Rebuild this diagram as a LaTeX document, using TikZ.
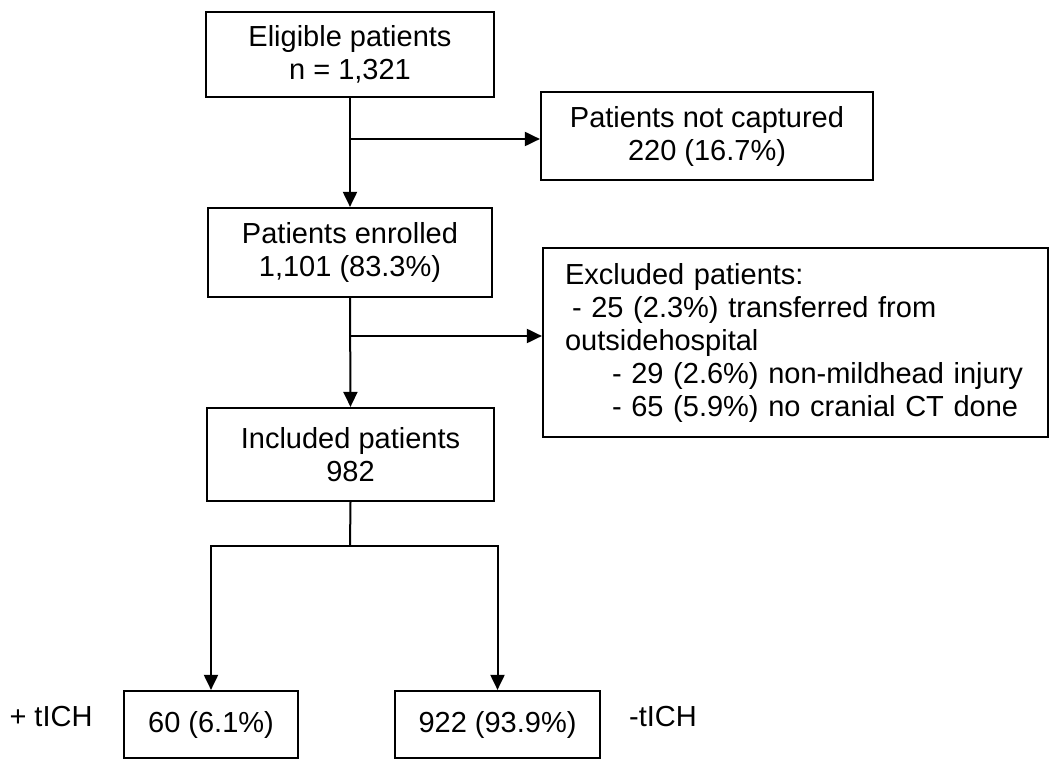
\documentclass[tikz,border=0pt]{standalone}
\usepackage{fontspec}
\setmainfont{Liberation Sans}
\usetikzlibrary{arrows.meta}
\tikzset{
  box/.style={draw, line width=2.2pt, inner sep=0pt, align=center},
  arr/.style={line width=2pt, -{Triangle[length=15pt,width=14pt]}},
  ln/.style={line width=2pt}
}
\begin{document}
\begin{tikzpicture}[x=1pt, y=-1pt, font=\fontsize{29pt}{33pt}\selectfont]
	\useasboundingbox (0,0) rectangle (1050,759);
	\node[box, minimum width=288pt, minimum height=85pt] (eligible) at (350,54.5) {Eligible patients\\n = 1,321};
	\node[box, minimum width=332pt, minimum height=88pt] (notcapt) at (707,136) {Patients not captured\\220 (16.7\%)};
	\node[box, minimum width=284pt, minimum height=89pt] (enrolled) at (350,252.5) {Patients enrolled\\1,101 (83.3\%)};
	\node[box, minimum width=505pt, minimum height=189pt, inner xsep=22pt, text width=461pt, align=left] (excluded) at (795.5,342.5)
		{Excluded patients:\\\hspace*{7pt}- 25 (2.3\%) transferred from\\outsidehospital\\\hspace*{47pt}- 29 (2.6\%) non-mildhead injury\\\hspace*{47pt}- 65 (5.9\%) no cranial CT done};
	\node[box, minimum width=287pt, minimum height=93pt] (included) at (350.5,454.5) {Included patients\\982};
	\node[box, minimum width=174pt, minimum height=67pt] (pos) at (211,724.5) {60 (6.1\%)};
	\node[box, minimum width=205pt, minimum height=67pt] (neg) at (497.5,724.5) {922 (93.9\%)};
	\node (poslbl) at (51,717) {+ tICH};
	\node (neglbl) at (663,717) {-tICH};
	\coordinate (b1) at (350,139);
	\coordinate (b2) at (350,336);
	\coordinate (split) at (350,546);
	\draw[arr] (eligible.south) -- (enrolled.north);
	\draw[arr] (b1) -- (b1 -| notcapt.west);
	\draw[arr] (enrolled.south) -- (included.north);
	\draw[arr] (b2) -- (b2 -| excluded.west);
	\draw[ln] (included.south) -- (split);
	\foreach \t in {pos,neg}{
		\draw[arr] (split) -| (\t.north);
	}
\end{tikzpicture}
\end{document}
